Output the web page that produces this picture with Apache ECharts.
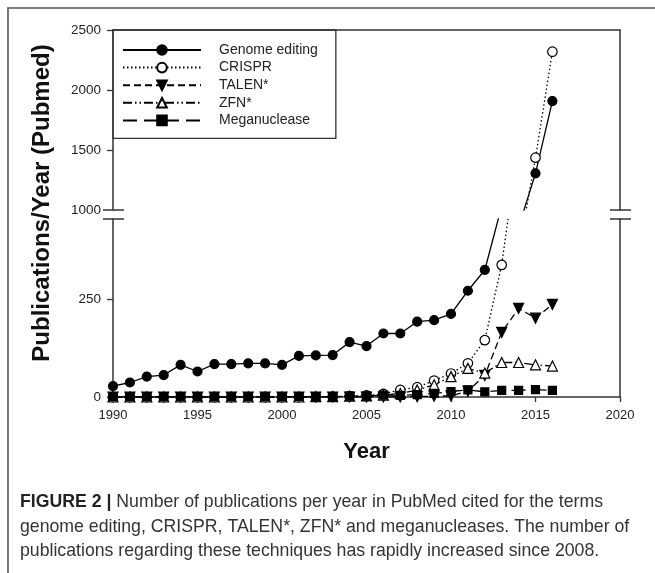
<!DOCTYPE html>
<html>
<head>
<meta charset="utf-8">
<script src="https://cdn.jsdelivr.net/npm/echarts@6/dist/echarts.min.js"></script>
<style>
html,body{margin:0;padding:0;background:#fff;}
#c{width:655px;height:573px;}
</style>
</head>
<body>
<div id="c"></div>
<script>
// ---- data ----
const years = [1990,1991,1992,1993,1994,1995,1996,1997,1998,1999,2000,2001,2002,2003,2004,2005,2006,2007,2008,2009,2010,2011,2012,2013,2014,2015,2016];
const seriesNames = ['Genome editing','CRISPR','TALEN*','ZFN*','Meganuclease'];
const genomeEditing = [28,37,52,56,82,65,84,84,86,86,82,105,106,107,140,130,162,162,192,196,212,271,324,487,856,1306,1908];
const crispr        = [0,0,0,0,0,0,0,0,0,0,0,0,0,1,2,4,8,18,25,42,60,86,145,337,650,1436,2319];
const talen         = [0,0,0,0,0,0,0,0,0,0,0,0,0,0,0,0,0,0,1,2,3,15,55,165,226,201,236];
const zfn           = [0,0,0,0,0,0,0,0,0,0,0,0,1,1,2,3,5,9,18,31,52,73,61,88,88,82,79];
const meganuclease  = [0,0,0,0,0,0,0,0,0,0,0,1,1,1,2,2,5,4,6,9,14,18,13,17,17,19,17];
const xTicks = [1990,1995,2000,2005,2010,2015,2020];
const upperTicks = [1000,1500,2000,2500];
const lowerTicks = [0,250];
const lowerMax = 454;
const xTitle = 'Year';
const yTitle = 'Publications/Year (Pubmed)';
const captionBold = 'FIGURE 2 |';
const captionLines = [
  ' Number of publications per year in PubMed cited for the terms',
  'genome editing, CRISPR, TALEN*, ZFN* and meganucleases. The number of',
  'publications regarding these techniques has rapidly increased since 2008.'
];

// ---- styles ----
const FONT = '"Liberation Sans", Arial, Helvetica, sans-serif';
const AXIS = '#333';
const styles = [
  {symbol:'circle',   size:9,   fill:'#000', dash:'solid',              rotate:0},
  {symbol:'circle',   size:9.5, fill:'#fff', dash:[1.5,2.5],            rotate:0},
  {symbol:'triangle', size:10,  fill:'#000', dash:[7,4],                rotate:180},
  {symbol:'triangle', size:10,  fill:'#fff', dash:[9,3,1.5,3,1.5,3],    rotate:0},
  {symbol:'rect',     size:8,   fill:'#000', dash:[14,7],               rotate:0}
];
const dataSets = [genomeEditing, crispr, talen, zfn, meganuclease];

const series = [];
[0,1].forEach(g => {
  dataSets.forEach((arr, i) => {
    const s = styles[i];
    series.push({
      type:'line', name: seriesNames[i],
      xAxisIndex: g, yAxisIndex: g === 0 ? 0 : 2,
      data: years.map((y,k) => [y, arr[k]]),
      symbol: s.symbol, symbolSize: s.size, symbolRotate: s.rotate,
      showAllSymbol: true,
      lineStyle: {color:'#000', width:1.3, type: s.dash},
      itemStyle: {color: s.fill, borderColor:'#000', borderWidth:1.2, opacity:1},
      emphasis: {disabled:true},
      clip: true,
      z: 2 + i
    });
  });
});

const axisLineStyle = {color: AXIS, width: 1.5};
const labelStyle = {color:'#222', fontSize:13, fontFamily: FONT};
const yLabelStyle = {color:'#222', fontSize:13.5, fontFamily: FONT};
const numFmt = v => String(v);

const chart = echarts.init(document.getElementById('c'), null, {renderer:'canvas'});
chart.setOption({
  animation: false,
  backgroundColor: '#fff',
  grid: [
    {left:113, right:35, top:30, height:180},
    {left:113, right:35, top:219, height:178}
  ],
  legend: {
    orient:'vertical', left:113, top:30,
    data: seriesNames,
    borderColor:'#333', borderWidth:1.3,
    padding:[13,18,11,9],
    itemWidth:78, itemHeight:12, itemGap:3.6,
    selectedMode:false,
    textStyle:{color:'#222', fontSize:14, fontFamily:FONT, lineHeight:14, padding:[0,0,0,13]}
  },
  xAxis: [
    {gridIndex:0, type:'value', min:1990, max:2020, interval:5, position:'top',
     axisLine:{show:true, onZero:false, lineStyle:axisLineStyle},
     axisTick:{show:false}, axisLabel:{show:false}, splitLine:{show:false}},
    {gridIndex:1, type:'value', min:1990, max:2020, interval:5, position:'bottom',
     axisLine:{show:true, onZero:false, lineStyle:axisLineStyle},
     axisTick:{show:true, length:5, lineStyle:{color:AXIS, width:1.3}, customValues:xTicks},
     axisLabel:Object.assign({margin:12, formatter:numFmt, customValues:xTicks}, labelStyle),
     splitLine:{show:false}}
  ],
  yAxis: [
    {gridIndex:0, type:'value', min:1000, max:2500, interval:500, position:'left',
     axisLine:{show:true, onZero:false, lineStyle:axisLineStyle},
     axisTick:{show:true, length:6, lineStyle:{color:AXIS, width:1.3}, customValues:upperTicks.slice(1)},
     axisLabel:Object.assign({margin:12, formatter:numFmt, customValues:upperTicks}, yLabelStyle),
     splitLine:{show:false}},
    {gridIndex:0, type:'value', min:1000, max:2500, position:'right',
     axisLine:{show:true, onZero:false, lineStyle:axisLineStyle},
     axisTick:{show:false}, axisLabel:{show:false}, splitLine:{show:false}},
    {gridIndex:1, type:'value', min:0, max:lowerMax, interval:250, position:'left',
     axisLine:{show:true, onZero:false, lineStyle:axisLineStyle},
     axisTick:{show:true, length:6, lineStyle:{color:AXIS, width:1.3}, customValues:lowerTicks},
     axisLabel:Object.assign({margin:12, formatter:numFmt, customValues:lowerTicks}, yLabelStyle),
     splitLine:{show:false}},
    {gridIndex:1, type:'value', min:0, max:lowerMax, position:'right',
     axisLine:{show:true, onZero:false, lineStyle:axisLineStyle},
     axisTick:{show:false}, axisLabel:{show:false}, splitLine:{show:false}}
  ],
  series: series
});

// ---- decorations derived from the axes ----
const pUL = chart.convertToPixel({xAxisIndex:0, yAxisIndex:0}, [1990, 1000]);
const pUR = chart.convertToPixel({xAxisIndex:0, yAxisIndex:0}, [2020, 1000]);
const pLL = chart.convertToPixel({xAxisIndex:1, yAxisIndex:2}, [1990, lowerMax]);
const pLB = chart.convertToPixel({xAxisIndex:1, yAxisIndex:2}, [1990, 0]);
const breakStyle = {stroke: AXIS, lineWidth: 1.5};
const graphics = [];
[pUL[0], pUR[0]].forEach(x => {
  graphics.push({type:'line', shape:{x1:x-10, y1:pUL[1], x2:x+11, y2:pUL[1]}, style:breakStyle, silent:true});
  graphics.push({type:'line', shape:{x1:x-10, y1:pLL[1], x2:x+11, y2:pLL[1]}, style:breakStyle, silent:true});
});
// figure frame (top and left)
graphics.push({type:'polyline', shape:{points:[[8,573],[8,8],[655,8]]}, style:{stroke:'#555', lineWidth:1.6, fill:null}, silent:true});
// axis titles
graphics.push({type:'text', x:(pUL[0]+pUR[0])/2, y:pLB[1]+55,
  style:{text:xTitle, font:'bold 22px '+FONT, fill:'#111', align:'center', verticalAlign:'middle'}, silent:true});
graphics.push({type:'text', x:42, y:203, rotation:Math.PI/2,
  style:{text:yTitle, font:'bold 24px '+FONT, fill:'#111', align:'center', verticalAlign:'middle'}, silent:true});
// caption
const CAP = 17.7;
graphics.push({type:'text', x:20, y:502,
  style:{text:'{b|'+captionBold+'}{n|'+captionLines[0]+'}', verticalAlign:'middle', align:'left',
    rich:{b:{font:'bold '+CAP+'px '+FONT, fill:'#222'}, n:{font:CAP+'px '+FONT, fill:'#333'}}}, silent:true});
graphics.push({type:'text', x:20, y:527,
  style:{text:captionLines[1], font:CAP+'px '+FONT, fill:'#333', verticalAlign:'middle', align:'left'}, silent:true});
graphics.push({type:'text', x:20, y:551,
  style:{text:captionLines[2], font:CAP+'px '+FONT, fill:'#333', verticalAlign:'middle', align:'left'}, silent:true});
chart.setOption({graphic: graphics});
</script>
</body>
</html>
